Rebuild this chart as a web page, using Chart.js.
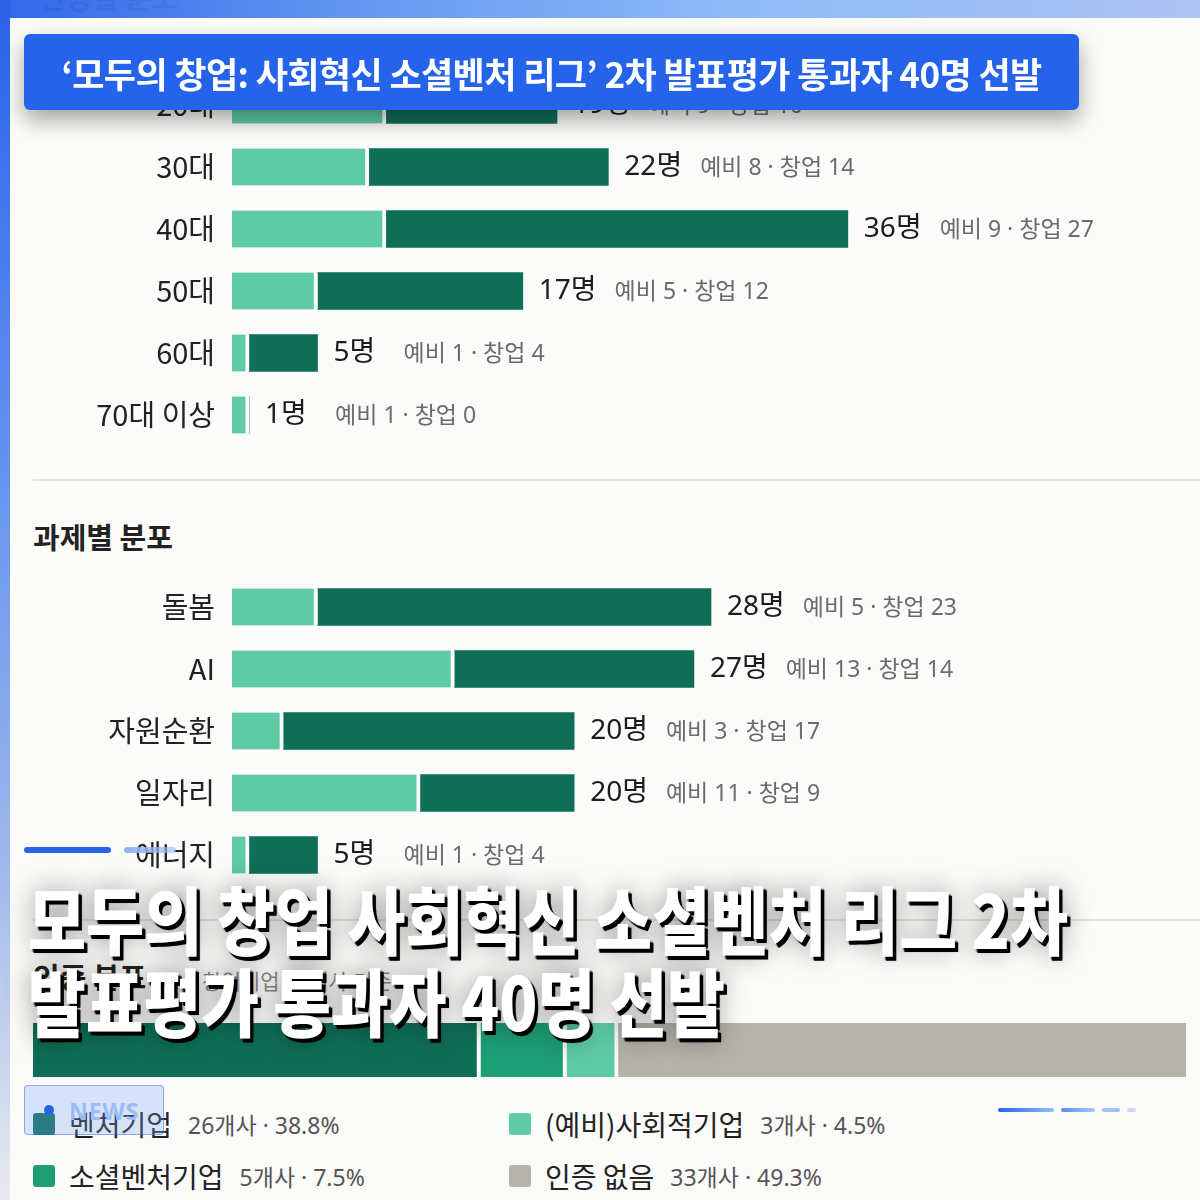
<!DOCTYPE html>
<html><head><meta charset="utf-8">
<script src="https://cdn.jsdelivr.net/npm/chart.js@4.4.1/dist/chart.umd.min.js"></script>
<style>
html,body{margin:0;padding:0;}
body{width:1200px;height:1200px;position:relative;overflow:hidden;background:#fbfbf9;font-family:"Noto Sans CJK KR","Noto Sans",sans-serif;}
#topbar{position:absolute;left:0;top:0;width:1200px;height:18px;background:linear-gradient(90deg,#2a62e9 0%,#5f93f1 30%,#8ab9f8 62%,#a9c0f3 100%);opacity:.96;z-index:5}
#leftbar{position:absolute;left:0;top:0;width:10px;height:1200px;background:linear-gradient(180deg,#2a62e9 0%,#5d8ff0 35%,#9ab5ec 70%,#e8eaef 100%);z-index:5}
.sec{position:absolute;left:33px;font-size:29px;font-weight:700;color:#222;line-height:1;}
.sub{font-size:21px;font-weight:400;color:#888;margin-left:56px;font-family:"Noto Sans","Noto Sans CJK KR",sans-serif;}
.rule{position:absolute;left:33px;width:1167px;height:2px;background:#e6e6e0;}
canvas{position:absolute;}
#banner{position:absolute;left:24px;top:34px;width:1055px;height:76px;background:#2563eb;border-radius:6px;box-shadow:0 10px 22px rgba(0,0,0,.35);z-index:10;display:flex;align-items:center;justify-content:center;color:#fff;font-size:35px;font-weight:700;letter-spacing:-0.6px;white-space:nowrap;}
#headline{position:absolute;left:28px;top:876px;z-index:12;color:#fff;font-weight:900;font-size:74px;line-height:82px;white-space:nowrap;text-shadow:4px 4px 0 #000,3px 3px 2px #000,0 0 30px rgba(0,0,0,.45);}
#headline div{transform-origin:0 0;display:inline-block;}
.acc{position:absolute;height:6px;border-radius:3px;z-index:11;}
#news{position:absolute;left:24px;top:1085px;width:138px;height:48px;background:rgba(120,160,245,.28);border:1px solid rgba(37,99,235,.45);border-radius:4px;z-index:11;}
#news .dot{position:absolute;left:19px;top:19px;width:10px;height:10px;border-radius:5px;background:#2563eb;}
#news .t{position:absolute;left:44px;top:9px;font-size:23px;font-weight:700;color:#9dbcf6;letter-spacing:1px;font-family:"Noto Sans","Noto Sans CJK KR",sans-serif;}
.dash{position:absolute;height:4px;border-radius:2px;top:1108px;z-index:11;}
#legend{position:absolute;left:33px;top:1104px;width:1150px;}
.li{position:absolute;display:flex;align-items:center;white-space:nowrap;}
.sw{width:22px;height:22px;border-radius:3px;margin-right:14px;}
.ln{font-size:28px;color:#222;}
.lv{font-size:23px;color:#555;margin-left:16px;font-family:"Noto Sans","Noto Sans CJK KR",sans-serif;}
</style></head>
<body>
<div id="topbar"></div>
<div id="leftbar"></div>
<div class="sec" style="top:-18px;left:38px;color:#444">연령별 분포</div>

<canvas id="c1" width="1180" height="372" style="left:10px;top:74px;width:1180px;height:372px"></canvas>
<div class="rule" style="top:479px"></div>
<div class="sec" style="top:522px">과제별 분포</div>
<canvas id="c2" width="1180" height="310" style="left:10px;top:576px;width:1180px;height:310px"></canvas>
<div class="rule" style="top:919px"></div>
<div class="sec" style="top:962px">인증 분포<span class="sub" id="certSub"></span></div>
<canvas id="c3" width="1153" height="54" style="left:33px;top:1023px;width:1153px;height:54px"></canvas>
<div id="legend"></div>

<div id="banner">‘모두의 창업: 사회혁신 소셜벤처 리그’ 2차 발표평가 통과자 40명 선발</div>
<div class="acc" style="left:24px;top:847px;width:87px;background:#2563eb"></div>
<div class="acc" style="left:124px;top:847px;width:52px;background:linear-gradient(90deg,#8fb0f2,rgba(160,190,245,.6))"></div>
<div id="headline"><div id="h1">모두의 창업 사회혁신 소셜벤처 리그 2차</div><br><div id="h2">발표평가 통과자 40명 선발</div></div>
<div id="news"><div class="dot"></div><div class="t">NEWS</div></div>
<div class="dash" style="left:998px;width:56px;background:linear-gradient(90deg,#2563eb,#8ec0fb)"></div>
<div class="dash" style="left:1061px;width:34px;background:linear-gradient(90deg,#5d8cef,#a9c8f8)"></div>
<div class="dash" style="left:1102px;width:18px;background:#a9bff0"></div>
<div class="dash" style="left:1127px;width:9px;background:#cbd9f6"></div>

<script>
// ---- data ----
const ageLabels = ['20대','30대','40대','50대','60대','70대 이상'];
const agePre    = [9, 8, 9, 5, 1, 1];
const ageFound  = [10, 14, 27, 12, 4, 0];

const taskLabels = ['돌봄','AI','자원순환','일자리','에너지'];
const taskPre    = [5, 13, 3, 11, 1];
const taskFound  = [23, 14, 17, 9, 4];

const certLabels = ['벤처기업','소셜벤처기업','(예비)사회적기업','인증 없음'];
const certCounts = [26, 5, 3, 33];
const certPct    = ['38.8%','7.5%','4.5%','49.3%'];
const certBase   = '창업기업 67개사 기준';

const seriesNames = ['예비','창업'];
const axisMax = 56;

// ---- styles ----
const FONT = '"Noto Sans CJK KR","Noto Sans",sans-serif';
const FONT2 = '"Noto Sans","Noto Sans CJK KR",sans-serif';
const LIGHT = '#5ecba6', DARK = '#0f6e56', MID = '#1d9e75', GREY = '#b4b2a9', BG = '#fbfbf9';

const valueLabels = {
  id:'valueLabels',
  afterDatasetsDraw(chart){
    const ctx = chart.ctx;
    const ds = chart.data.datasets;
    chart.data.labels.forEach((lab,i)=>{
      let xEnd = chart.chartArea.left, y = 0;
      ds.forEach((d,di)=>{
        const el = chart.getDatasetMeta(di).data[i];
        y = el.y;
        if (d.data[i] > 0 && el.x > xEnd) xEnd = el.x;
      });
      const a = ds[0].data[i], b = ds[1].data[i];
      ctx.save();
      ctx.textBaseline = 'middle';
      ctx.font = '28px ' + FONT2;
      ctx.fillStyle = '#1c1c1c';
      const t1 = (a+b) + '명';
      let x = xEnd + 16;
      ctx.fillText(t1, x, y);
      x += Math.max(ctx.measureText(t1).width, 52) + 18;
      ctx.font = '23px ' + FONT2;
      ctx.fillStyle = '#6b6b6b';
      ctx.fillText(seriesNames[0] + ' ' + a + ' · ' + seriesNames[1] + ' ' + b, x, y + 1);
      ctx.restore();
    });
  }
};

function hbar(id, labels, pre, found){
  return new Chart(document.getElementById(id), {
    type:'bar',
    data:{labels, datasets:[
      {label:seriesNames[0], data:pre, backgroundColor:LIGHT, borderColor:BG, borderWidth:{left:0,top:0,bottom:0,right:4}, borderSkipped:false, barThickness:37},
      {label:seriesNames[1], data:found, backgroundColor:DARK, borderWidth:0, barThickness:37}
    ]},
    options:{
      indexAxis:'y', responsive:false, animation:false,
      layout:{padding:0},
      plugins:{legend:{display:false}, tooltip:{enabled:false}},
      scales:{
        x:{stacked:true, display:false, min:0, max:axisMax},
        y:{stacked:true, grid:{display:false, drawTicks:false}, border:{display:false},
           ticks:{color:'#222', font:{family:FONT, size:29}, padding:17},
           afterFit:(s)=>{ s.width = 222; s.paddingTop = 0; s.paddingBottom = 0; }}
      }
    },
    plugins:[valueLabels]
  });
}
hbar('c1', ageLabels, agePre, ageFound);
hbar('c2', taskLabels, taskPre, taskFound);

const certColors = [DARK, MID, LIGHT, GREY];
new Chart(document.getElementById('c3'), {
  type:'bar',
  data:{labels:['인증'], datasets: certLabels.map((l,i)=>({
    label:l, data:[certCounts[i]], backgroundColor:certColors[i],
    borderColor:BG, borderWidth: i < certLabels.length-1 ? {left:0,top:0,bottom:0,right:4} : 0,
    borderSkipped:false, barPercentage:1, categoryPercentage:1
  }))},
  options:{
    indexAxis:'y', responsive:false, animation:false, layout:{padding:0},
    plugins:{legend:{display:false}, tooltip:{enabled:false}},
    scales:{
      x:{stacked:true, display:false, min:0, max:certCounts.reduce((a,b)=>a+b,0)},
      y:{stacked:true, display:false}
    }
  }
});

document.getElementById('certSub').textContent = certBase;
const lg = document.getElementById('legend');
const pos = [[0,0],[476,0],[0,52],[476,52]];
const order = [0,2,1,3];
order.forEach((ci,k)=>{
  const d = document.createElement('div');
  d.className='li';
  d.style.left = pos[k][0]+'px'; d.style.top = pos[k][1]+'px';
  d.innerHTML = '<div class="sw" style="background:'+certColors[ci]+'"></div><span class="ln">'+certLabels[ci]+'</span><span class="lv">'+certCounts[ci]+'개사 · '+certPct[ci]+'</span>';
  lg.appendChild(d);
});

// fit headline widths
const fit = (id, w)=>{ const el=document.getElementById(id); const cur=el.getBoundingClientRect().width; el.style.transform='scaleX('+(w/cur)+')'; };
fit('h1', 1040); fit('h2', 697);
</script>
</body></html>
